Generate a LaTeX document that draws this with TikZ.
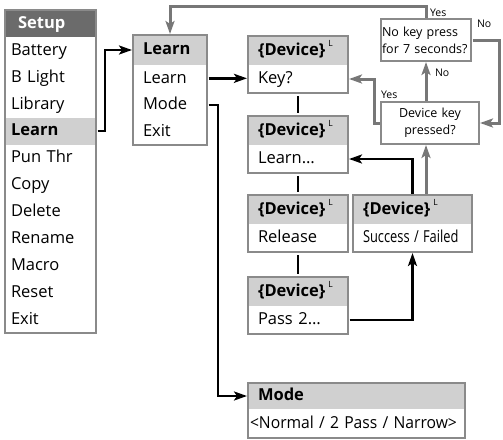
\documentclass[tikz,border=0pt]{standalone}
\usepackage{fontspec}
\setmainfont{Open Sans}
\usepackage{xcolor}
\usetikzlibrary{positioning,arrows.meta}

\definecolor{darkhead}{HTML}{6B6B6B}
\definecolor{lighthead}{HTML}{D0D0D0}
\definecolor{framegray}{HTML}{8A8A8A}
\definecolor{flowgray}{HTML}{777777}

\newcommand{\devhdr}{{\bfseries\{Device\}}\hspace{3pt}\raisebox{1ex}{\fontsize{8.5}{9}\selectfont L}}

\begin{document}
\begin{tikzpicture}[x=1pt,y=-1pt,
		every node/.style={rectangle,inner ysep=0pt,outer sep=0pt,align=left,
			font=\fontsize{16.5}{18}\selectfont},
		line/.style={text height=13.5pt,text depth=4pt},
		sethead/.style={line,anchor=north west,fill=darkhead,text=white,font=\fontsize{16.5}{18}\selectfont\bfseries,
			text width=65pt,inner xsep=13pt,minimum height=27pt},
		setitem/.style={line,anchor=north west,text width=79pt,inner xsep=6pt,minimum height=26.9pt},
		setsel/.style={setitem,fill=lighthead,font=\fontsize{16.5}{18}\selectfont\bfseries},
		lrnhead/.style={line,anchor=north west,fill=lighthead,font=\fontsize{16.5}{18}\selectfont\bfseries,
			text width=54pt,inner xsep=10pt,minimum height=30pt},
		lrnitem/.style={line,text width=54pt,inner xsep=10pt,minimum height=26.67pt},
		devhead/.style={line,anchor=north west,fill=lighthead,text width=80pt,inner xsep=10pt,minimum height=29pt},
		devbody/.style={line,text width=80pt,inner xsep=10pt,minimum height=28pt},
		ask/.style={draw=framegray,line width=1.2pt,font=\fontsize{12.5}{17}\selectfont,minimum height=42pt},
		lbl/.style={font=\fontsize{10.5}{12}\selectfont,inner sep=0pt},
		frame/.style={draw=framegray,line width=1.2pt},
		flow/.style={draw=black,line width=2.4pt,shorten <=1.5pt,shorten >=1pt,
			-{Stealth[length=13pt,width=9pt,inset=3pt]}},
		gflow/.style={flow,draw=flowgray,line width=3pt},
		link/.style={draw=black,line width=2.4pt,shorten <=3pt,shorten >=3pt}]
	\useasboundingbox (0,0) rectangle (503,439);

	% setup menu
	\node[sethead] (setup) at (5,10) {Setup};
	\foreach \lbl/\sty [count=\i] in {Battery/setitem,B Light/setitem,Library/setitem,Learn/setsel,
			Pun Thr/setitem,Copy/setitem,Delete/setitem,Rename/setitem,Macro/setitem,Reset/setitem,Exit/setitem}
		\node[\sty] (s\i) at (5,{37+26.9*(\i-1)}) {\lbl};
	\draw[frame] (setup.north west) rectangle (s11.south east);

	% learn menu
	\node[lrnhead] (lrn) at (133,35) {Learn};
	\node[lrnitem,below=0pt of lrn] (lrn1) {Learn};
	\node[lrnitem,below=0pt of lrn1] (lrn2) {Mode};
	\node[lrnitem,below=0pt of lrn2] (lrn3) {Exit};
	\draw[frame] (lrn.north west) rectangle (lrn3.south east);

	% device screens
	\node[devhead] (key) at (248,36) {\devhdr};
	\node[devbody,below=0pt of key] (key-b) {Key?};
	\node[devhead] (lrnd) at (248,116) {\devhdr};
	\node[devbody,below=0pt of lrnd] (lrnd-b) {Learn…};
	\node[devhead] (rel) at (248,195) {\devhdr};
	\node[devbody,below=0pt of rel] (rel-b) {Release};
	\node[devhead] (pass) at (248,277) {\devhdr};
	\node[devbody,below=0pt of pass] (pass-b) {Pass 2…};
	\node[devhead,text width=99pt] (succ) at (353,195) {\devhdr};
	\node[devbody,text width=99pt,below=0pt of succ] (succ-b) {\scalebox{0.78}[1]{Success / Failed}};
	\node[devhead,text width=197pt,minimum height=26pt] (mode) at (248,383) {\bfseries Mode};
	\node[devbody,text width=213pt,inner xsep=2pt,minimum height=29pt,below=0pt of mode] (mode-b)
		{\scalebox{0.95}[1]{<Normal / 2 Pass / Narrow>}};
	\foreach \n in {key,lrnd,rel,pass,succ,mode}
		\draw[frame] (\n.north west) rectangle (\n-b.south east);

	% questions
	\node[ask,anchor=north west,text width=88pt,inner xsep=1pt] (nokey) at (381,19)
		{No key press\\for 7 seconds?};
	\node[ask,anchor=north west,text width=90pt,inner xsep=4pt,align=center] (dkp) at (381,102)
		{Device key\\pressed?};

	% connectors
	\draw[flow] (s4.east) -- ++(9,0) |- (lrn.west);
	\draw[flow] (lrn1.east) -- (lrn1.east -| key-b.west);
	\draw[flow] (lrn2.east) -- ++(11,0) |- (mode.west);
	\draw[link] (key-b.south) -- (lrnd.north);
	\draw[link] (lrnd-b.south) -- (rel.north);
	\draw[link] (rel-b.south) -- (pass.north);
	\draw[flow] (pass-b.east) -| (succ-b.south);
	\draw[flow] (succ.north) |- (lrnd-b.east);
	\draw[gflow] (succ.north -| nokey.south) -- (nokey.south |- dkp.south);
	\draw[gflow] (dkp.north -| nokey.south) -- (nokey.south)
		node[lbl,pos=0.72,right=9pt] (no1) {No};
	\draw[gflow] (dkp.west) -- ++(-7,0) |- (key-b.east);
	\node[lbl,above right=3pt and 0pt of dkp.north west] (yes1) {Yes};
	\coordinate (top) at (0,6);
	\draw[gflow] (nokey.north) -- (nokey.north |- top) -| (lrn.north);
	\node[lbl,above right=2pt and 4pt of nokey.north] (yes2) {Yes};
	\draw[gflow] (nokey.east) -- ++(28,0) |- (dkp.east);
	\node[lbl,above right=12pt and 6pt of nokey.east] (no2) {No};
\end{tikzpicture}
\end{document}
